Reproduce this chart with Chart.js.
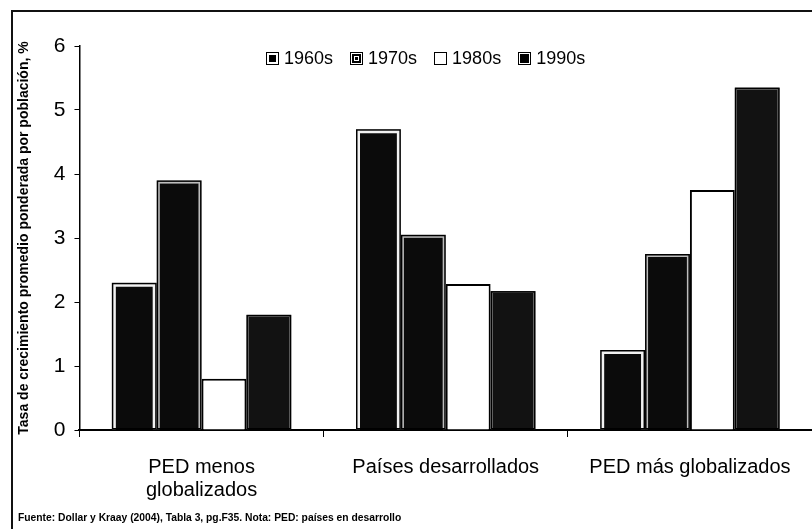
<!DOCTYPE html>
<html>
<head>
<meta charset="utf-8">
<script src="https://cdn.jsdelivr.net/npm/chart.js@4.4.1/dist/chart.umd.min.js"></script>
<style>
  html, body { margin: 0; padding: 0; background: #fff; }
  #wrap { position: relative; width: 812px; height: 529px; }
  #frame { position: absolute; left: 11px; top: 10px; right: 0; bottom: 0;
           border-left: 2px solid #111; border-top: 2px solid #111; pointer-events: none; }
  #legend { position: absolute; left: 266px; top: 48px; font-family: 'Liberation Sans', Arial, sans-serif;
            font-size: 18px; color: #000; white-space: nowrap; }
  #legend span.item { margin-right: 17px; }
  #legend i { display: inline-block; width: 11px; height: 11px; border: 1.5px solid #000;
              margin-right: 5px; vertical-align: -1px; box-sizing: content-box; }
  #note { position: absolute; left: 18px; top: 511px; font-family: 'Liberation Sans', Arial, sans-serif;
          font-size: 10.3px; font-weight: bold; line-height: 14px; color: #000; white-space: nowrap; }
</style>
</head>
<body>
<div id="wrap">
  <canvas id="chart" width="812" height="529"></canvas>
  <div id="frame"></div>
  <div id="legend"></div>
  <div id="note">Fuente: Dollar y Kraay (2004), Tabla 3, pg.F35. Nota: PED: países en desarrollo</div>
</div>
<script>
var categories = [["PED menos", "globalizados"], "Países desarrollados", "PED más globalizados"];
var decades = ["1960s", "1970s", "1980s", "1990s"];
var values1960 = [2.3, 4.7, 1.25];
var values1970 = [3.9, 3.05, 2.75];
var values1980 = [0.8, 2.28, 3.75];
var values1990 = [1.8, 2.17, 5.35];
var yTicks = [0, 1, 2, 3, 4, 5, 6];

var legendBoxes = [
  "background:#000; box-shadow: inset 0 0 0 2px #fff;",
  "background:#000; box-shadow: inset 0 0 0 1px #fff, inset 0 0 0 3px #000, inset 0 0 0 4px #fff;",
  "background:#fff;",
  "background:#000; box-shadow: inset 0 0 0 1px #fff;"
];

Chart.defaults.font.family = "'Liberation Sans', Arial, sans-serif";
Chart.defaults.color = "#000";

// black outline around the outside of the framed bars
var outerOutline = {
  id: 'outerOutline',
  afterDatasetsDraw: function (chart) {
    var ctx = chart.ctx;
    chart.data.datasets.forEach(function (ds, i) {
      if (!ds.outline) return;
      chart.getDatasetMeta(i).data.forEach(function (bar) {
        var p = bar.getProps(['x', 'y', 'base', 'width'], true);
        ctx.save();
        ctx.strokeStyle = '#000';
        ctx.lineWidth = 1.5;
        ctx.strokeRect(p.x - p.width / 2 + 0.75, p.y + 0.75, p.width - 1.5, p.base - p.y - 1.5);
        ctx.restore();
      });
    });
  }
};

var chart = new Chart(document.getElementById("chart"), {
  type: 'bar',
  data: {
    labels: categories,
    datasets: [
      {
        label: decades[0],
        data: values1960,
        backgroundColor: "#0b0b0b",
        borderColor: "#f2f2f2",
        borderWidth: 4,
        outline: true
      },
      {
        label: decades[1],
        data: values1970,
        backgroundColor: "#0b0b0b",
        borderColor: "#bdbdbd",
        borderWidth: 3,
        outline: true
      },
      {
        label: decades[2],
        data: values1980,
        backgroundColor: "#ffffff",
        borderColor: "#000000",
        borderWidth: 2
      },
      {
        label: decades[3],
        data: values1990,
        backgroundColor: "#121212",
        borderColor: "#6a6a6a",
        borderWidth: 2,
        outline: true
      }
    ]
  },
  plugins: [outerOutline],
  options: {
    responsive: false,
    animation: false,
    layout: {
      padding: { top: 46, right: 0, left: 16, bottom: 8 }
    },
    datasets: {
      bar: {
        categoryPercentage: 0.735,
        barPercentage: 1
      }
    },
    plugins: {
      legend: { display: false },
      title: { display: false },
      tooltip: { enabled: false }
    },
    scales: {
      x: {
        grid: {
          display: true,
          drawOnChartArea: false,
          color: "#000",
          tickLength: 7
        },
        border: { color: "#000", width: 2 },
        ticks: {
          font: { size: 20, lineHeight: 1.15 },
          maxRotation: 0,
          padding: 19
        }
      },
      y: {
        min: 0,
        max: 6,
        afterBuildTicks: function (axis) {
          axis.ticks = yTicks.map(function (v) { return { value: v }; });
        },
        grid: {
          display: true,
          drawOnChartArea: false,
          color: "#000",
          tickLength: 5
        },
        border: { color: "#000", width: 1.5 },
        ticks: {
          font: { size: 21 },
          padding: 9
        },
        title: {
          display: true,
          text: 'Tasa de crecimiento promedio ponderada por población, %',
          font: { size: 14, weight: 'bold' },
          padding: { top: 0, bottom: 12 }
        }
      }
    }
  }
});

var legendEl = document.getElementById("legend");
legendEl.innerHTML = chart.data.datasets.map(function (ds, i) {
  return '<span class="item"><i style="' + legendBoxes[i] + '"></i>' + ds.label + '</span>';
}).join('');
</script>
</body>
</html>
